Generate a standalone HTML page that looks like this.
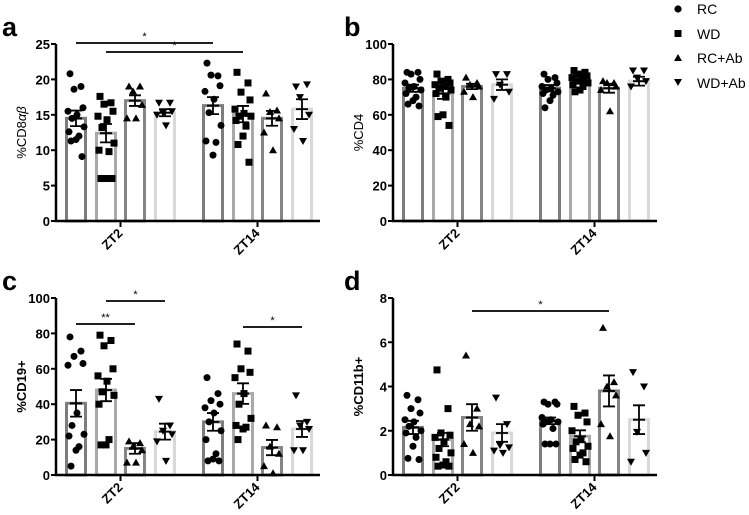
<!DOCTYPE html>
<html><head><meta charset="utf-8"><style>
body{margin:0;background:#fff;}
svg{display:block;font-family:"Liberation Sans",Arial,sans-serif;}
</style></head><body>
<svg id="fig" width="749" height="515" viewBox="0 0 749 515" xmlns="http://www.w3.org/2000/svg">
<g>
  <g><circle cx="678" cy="9" r="3.6" fill="#000"/><text x="697" y="14" font-size="14">RC</text></g>
  <g><rect x="674.5" y="30" width="7" height="7" fill="#000"/><text x="697" y="39" font-size="14">WD</text></g>
  <g><path d="M678,54 L682,61 L674,61Z" fill="#000"/><text x="697" y="63" font-size="14">RC+Ab</text></g>
  <g><path d="M674,79 L682,79 L678,86Z" fill="#000"/><text x="697" y="88" font-size="14">WD+Ab</text></g>
</g>
</svg>
<script>
const categories = ["ZT2","ZT14"];
const groups = ["RC","WD","RC+Ab","WD+Ab"];
// Panel a
const aTicks=[0,5,10,15,20,25];
const aMeans=[[14.5,12.4,17,15.3],[16.3,15.1,14.5,15.8]];
const aSem=[[1.1,1.3,0.75,0.5],[1.2,1.15,1.05,1.4]];
const aPoints=[[[20.8,19,18.6,16,15.5,15,14.5,13.3,12.6,12,11.5,11.3,9.1],[17.6,16.7,16.5,15.5,14.8,14.3,13.2,11,10,9.8,6,6,6],[19,19,18.3,16.4,14.5,14.5],[16.7,16.7,15.3,15.5,15,13.5]],
 [[22.3,20.5,20.6,19.1,18.3,17.2,15.3,13.5,11.3,11.1,9.3],[21,19.5,18.2,17.1,15.8,15.2,14.8,14.8,14.2,13.4,12,10.8,8.3],[18,15.6,15.4,14.5,12.5,10],[19,19.3,17.5,15,13,11.3]]];
// Panel b
const bTicks=[0,20,40,60,80,100];
const bMeans=[[75,72,76,77],[75,80,75,79]];
const bSem=[[2,3,1.5,3],[1.8,2,2.5,2.5]];
const bPoints=[[[84,84,83,80,78,76,75,74,72,70,68,66,65],[83,80,79,78,77,76,75,74,72,70,60,59,54],[81,78,77,76,73,70],[83,83,77,73,69]],
 [[83,81,80,78,76,75,74,73,72,71,68,64],[85,84,83,82,81,80,79,78,77,76,74,73],[79,78,78,76,74,62],[85,85,81,79,76]]];
// Panel c
const cTicks=[0,20,40,60,80,100];
const cMeans=[[40.5,48,15,24.5],[30,46,15.5,26]];
const cSem=[[7.5,6.3,3,4.5],[5,5.8,4.3,4.5]];
const cPoints=[[[78,70,67,63,62,35,28,23,22,16,14,5],[79,76,73,60,56,53,47,45,40,20,17,17],[19,18,16,14,7,7],[43,28,25,23,19,8]],
 [[55,46,42,40,38,35,30,25,20,12,9,8,8],[74,70,60,58,55,46,40,32,28,27,26,20],[28,27,16,12,5,1],[45,30,28,26,14,14]]];
// Panel d
const dTicks=[0,2,4,6,8];
const dMeans=[[2.15,1.6,2.6,1.9],[2.45,1.75,3.8,2.5]];
const dSem=[[0.3,0.3,0.6,0.4],[0.15,0.27,0.7,0.65]];
const dPoints=[[[3.6,3.4,3,2.8,2.5,2.4,2.2,2,1.9,1.7,1.3,0.75,0.7],[4.75,3,1.9,1.8,1.7,1.5,1.2,1.0,0.8,0.6,0.45,0.4,0.4],[5.4,3,2.3,2.2,1.4,1.0],[3.5,2.3,1.35,1.25,1.1,1.0]],
 [[3.3,3.3,3.2,3.2,2.6,2.5,2.4,2.4,2.3,2.1,1.4,1.4,1.4],[3.1,2.8,2.7,2.4,2.0,1.6,1.5,1.3,1.2,1.0,0.9,0.7,0.6],[6.65,4.2,4.0,3.6,2.3,1.75],[4.65,4.0,1.95,1.0,0.6]]];

const NS="http://www.w3.org/2000/svg";
const svg=document.getElementById('fig');
function mk(tag,attrs,parent){const e=document.createElementNS(NS,tag);for(const k in attrs)e.setAttribute(k,attrs[k]);(parent||svg).appendChild(e);return e;}
const barColors=["#7d7d7d","#a9a9a9","#858585","#d9d9d9"];
const offsets=[[20,50,79,109],[157,187,216,246]];
const jit=[-6,5,-2,7,-8,1,-4,8,-7,3,0,-5,6,-1];

function panel(p){
  const g=mk('g',{});
  
  
  const ymax=p.ticks[p.ticks.length-1];
  const Y=v=>p.y0-(v/ymax)*(p.y0-p.ytop);
  const X=(c,i)=>p.x0+offsets[c][i];
  const lt=mk('text',{x:p.lx,y:p.ly,'font-size':27,'font-weight':'bold'},g);lt.textContent=p.letter;
  
  // bars
  for(let c=0;c<2;c++)for(let i=0;i<4;i++){
    const b=mk('rect',{x:X(c,i)-9.5,y:Y(p.means[c][i]),width:19,height:p.y0-Y(p.means[c][i]),fill:'#fff',stroke:barColors[i],'stroke-width':3},g);
    
    
  }
  // points
  for(let c=0;c<2;c++)for(let i=0;i<4;i++){
    p.points[c][i].forEach((v,k)=>{
      const cx=X(c,i)+jit[k%jit.length], cy=Y(v);
      let e;
      if(i==0)e=mk('circle',{cx:cx,cy:cy,r:3.5,fill:'#000'},g);
      else if(i==1)e=mk('rect',{x:cx-3.5,y:cy-3.5,width:7,height:7,fill:'#000'},g);
      else if(i==2)e=mk('path',{d:`M${cx},${cy-4}L${cx+4},${cy+3}L${cx-4},${cy+3}Z`,fill:'#000'},g);
      else e=mk('path',{d:`M${cx-4},${cy-3}L${cx+4},${cy-3}L${cx},${cy+4}Z`,fill:'#000'},g);
      
      
    });
    const m=p.means[c][i],s=p.sem[c][i],x=X(c,i);
    const eb=mk('path',{d:`M${x},${Y(m-s)}V${Y(m+s)}M${x-6},${Y(m-s)}H${x+6}M${x-6},${Y(m+s)}H${x+6}M${x-6},${Y(m)}H${x+6}`,stroke:'#000','stroke-width':1.8,fill:'none'},g);
    
    
  }
  // axes
  const ax=mk('path',{d:`M${p.x0},${p.ytop}V${p.y0}H${p.x0+264}`,stroke:'#000','stroke-width':2.5,fill:'none'},g);
  
  
  p.ticks.forEach(t=>{
    mk('line',{x1:p.x0-5,x2:p.x0,y1:Y(t),y2:Y(t),stroke:'#000','stroke-width':2},g);
    const tl=mk('text',{x:p.x0-6,y:Y(t)+5,'font-size':13,'font-weight':'bold','text-anchor':'end'},g);
    tl.textContent=t;
    
    
  });
  for(let c=0;c<2;c++){
    const cx=(X(c,0)+X(c,3))/2;
    mk('line',{x1:cx,x2:cx,y1:p.y0,y2:p.y0+6,stroke:'#000','stroke-width':2},g);
    const cl=mk('text',{x:cx+3,y:p.y0+13,'font-size':13,'font-weight':'bold','text-anchor':'end',transform:`rotate(-45 ${cx+3} ${p.y0+13})`},g);
    cl.textContent=categories[c];
    
    
  }
  const yl=mk('text',{x:0,y:0,'font-size':13,'text-anchor':'middle',transform:`translate(${p.x0-30},${(p.y0+p.ytop)/2}) rotate(-90)`},g);
  yl.innerHTML=p.title;
  
  
  (p.sig||[]).forEach(s=>{
    const a=X(s[0],s[1]),b=X(s[2],s[3]),yy=s[4];
    const sl=mk('line',{x1:a,x2:b,y1:yy,y2:yy,stroke:'#000','stroke-width':1.8},g);
    
    
    const st=mk('text',{x:(a+b)/2,y:yy-3,'font-size':11,'text-anchor':'middle'},g);
    st.textContent=s[5];
    
    
  });
}
panel({letter:'a',lx:2,ly:36,x0:56,y0:221,ytop:44,ticks:aTicks,means:aMeans,sem:aSem,points:aPoints,title:'%CD8<tspan font-style="italic">αβ</tspan>',
  sig:[[0,0,1,0,43,'*'],[0,1,1,1,52,'*']]});
panel({letter:'b',lx:344,ly:36,x0:393,y0:221,ytop:44,ticks:bTicks,means:bMeans,sem:bSem,points:bPoints,title:'%CD4'});
panel({letter:'c',lx:2,ly:290,x0:56,y0:475,ytop:298,ticks:cTicks,means:cMeans,sem:cSem,points:cPoints,title:'<tspan font-weight="bold">%CD19+</tspan>',
  sig:[[0,0,0,2,324,'**'],[0,1,0,3,301,'*'],[1,1,1,3,327,'*']]});
panel({letter:'d',lx:344,ly:290,x0:393,y0:475,ytop:298,ticks:dTicks,means:dMeans,sem:dSem,points:dPoints,title:'<tspan font-weight="bold">%CD11b+</tspan>',
  sig:[[0,2,1,2,311,'*']]});
</script>
</body></html>
